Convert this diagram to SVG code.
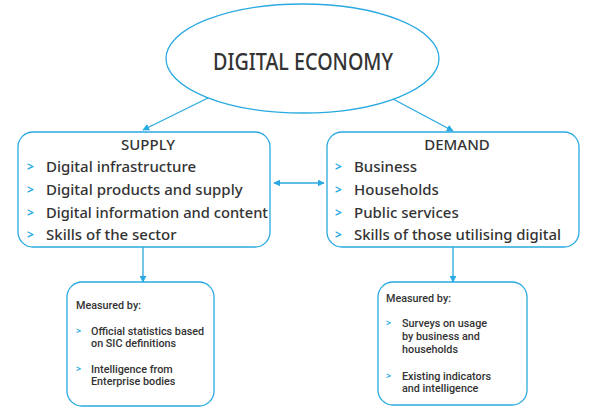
<svg xmlns="http://www.w3.org/2000/svg" width="589" height="410" viewBox="0 0 589 410">
<defs>
<marker id="ah" viewBox="0 0 10 10" refX="9" refY="5" markerWidth="7" markerHeight="7" orient="auto-start-reverse" markerUnits="userSpaceOnUse">
<path d="M0,0 L10,5 L0,10 z" fill="#29a9e1"/>
</marker>
<style>
.box{fill:#fff;stroke:#29a9e1;stroke-width:1.3}
.ln{stroke:#29a9e1;stroke-width:1.3;fill:none}
.t{font-family:"Noto Sans","Liberation Sans",sans-serif;fill:#333;font-weight:500}
.h{font-size:15px;text-anchor:middle}
.i{font-size:15px}
.s{font-family:Roboto,"Liberation Sans",sans-serif;font-size:10.8px;font-weight:500}
.c{font-family:"Noto Sans","Liberation Sans",sans-serif;fill:#29a9e1;font-weight:bold}
</style>
</defs>
<rect width="589" height="410" fill="#fff"/>
<g id="connectors">
<line class="ln" x1="208" y1="98" x2="143" y2="130" marker-end="url(#ah)"/>
<line class="ln" x1="393" y1="99" x2="453" y2="131" marker-end="url(#ah)"/>
<line class="ln" x1="274" y1="183" x2="324" y2="183" marker-start="url(#ah)" marker-end="url(#ah)"/>
<line class="ln" x1="143" y1="247" x2="143" y2="282" marker-end="url(#ah)"/>
<line class="ln" x1="453" y1="247" x2="453" y2="282" marker-end="url(#ah)"/>
</g>
<g id="digital-economy">
<ellipse class="box" cx="302.5" cy="58.5" rx="136.5" ry="54.5"/>
<text class="t" x="303" y="70" font-size="23" text-anchor="middle" textLength="180" lengthAdjust="spacingAndGlyphs">DIGITAL ECONOMY</text>
</g>
<g id="supply">
<rect class="box" x="18" y="132" width="252" height="115" rx="15"/>
<text class="t h" x="148" y="150">SUPPLY</text>
<g class="c" font-size="12">
<text x="27" y="171">&gt;</text><text x="27" y="194">&gt;</text><text x="27" y="217">&gt;</text><text x="27" y="239">&gt;</text>
</g>
<text class="t i" x="46" y="172">Digital infrastructure</text>
<text class="t i" x="46" y="195">Digital products and supply</text>
<text class="t i" x="46" y="218" textLength="222" lengthAdjust="spacingAndGlyphs">Digital information and content</text>
<text class="t i" x="46" y="240">Skills of the sector</text>
</g>
<g id="demand">
<rect class="box" x="327" y="132" width="252" height="115" rx="15"/>
<text class="t h" x="457" y="150">DEMAND</text>
<g class="c" font-size="12">
<text x="335" y="171">&gt;</text><text x="335" y="194">&gt;</text><text x="335" y="217">&gt;</text><text x="335" y="239">&gt;</text>
</g>
<text class="t i" x="354" y="172">Business</text>
<text class="t i" x="354" y="195">Households</text>
<text class="t i" x="354" y="218">Public services</text>
<text class="t i" x="354" y="240" textLength="207" lengthAdjust="spacingAndGlyphs">Skills of those utilising digital</text>
</g>
<g id="supply-measures">
<rect class="box" x="67" y="282" width="147" height="124" rx="15"/>
<text class="t s" x="76" y="309">Measured by:</text>
<g class="c" font-size="9"><text x="76" y="334">&gt;</text><text x="76" y="372">&gt;</text></g>
<text class="t s" x="91" y="335">Official statistics based</text>
<text class="t s" x="91" y="347">on SIC definitions</text>
<text class="t s" x="91" y="373">Intelligence from</text>
<text class="t s" x="91" y="385">Enterprise bodies</text>
</g>
<g id="demand-measures">
<rect class="box" x="378" y="282" width="149" height="123" rx="15"/>
<text class="t s" x="386" y="302">Measured by:</text>
<g class="c" font-size="9"><text x="386" y="326">&gt;</text><text x="386" y="379">&gt;</text></g>
<text class="t s" x="402" y="327">Surveys on usage</text>
<text class="t s" x="402" y="340">by business and</text>
<text class="t s" x="402" y="353">households</text>
<text class="t s" x="402" y="380">Existing indicators</text>
<text class="t s" x="402" y="392">and intelligence</text>
</g>
</svg>
